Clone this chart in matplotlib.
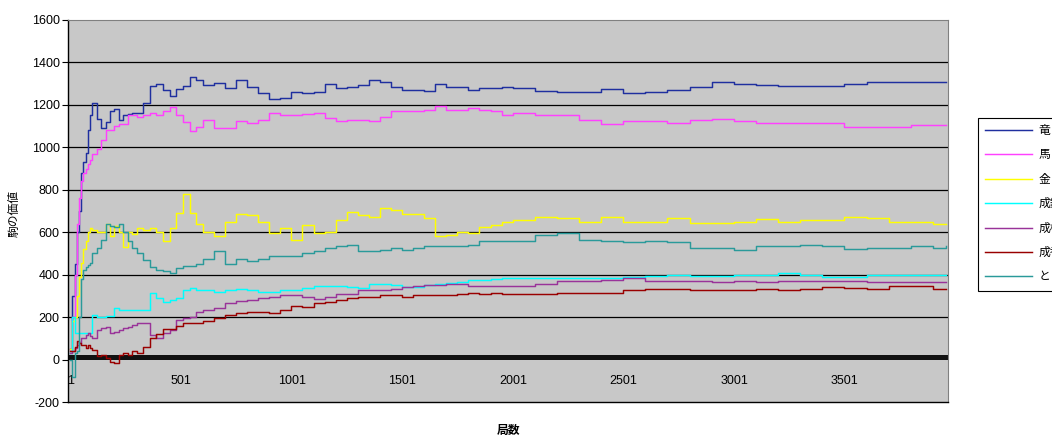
import matplotlib
matplotlib.use('Agg')
import matplotlib.pyplot as plt

games = [1, 10, 20, 30, 40, 50, 60, 70, 80, 90, 100,
         120, 140, 160, 180, 200, 220, 240, 260, 280, 300,
         330, 360, 390, 420, 450, 480, 510, 540, 570, 600,
         650, 700, 750, 800, 850, 900, 950, 1000, 1050, 1100,
         1150, 1200, 1250, 1300, 1350, 1400, 1450, 1500, 1550, 1600,
         1650, 1700, 1750, 1800, 1850, 1900, 1950, 2000,
         2100, 2200, 2300, 2400, 2500, 2600, 2700, 2800, 2900, 3000,
         3100, 3200, 3300, 3400, 3500, 3600, 3700, 3800, 3900, 3960]

ryu = [50, 300, 450, 600, 700, 880, 930, 975, 1080, 1150, 1208,
       1135, 1090, 1120, 1170, 1180, 1130, 1150, 1155, 1160, 1160,
       1210, 1290, 1300, 1270, 1243, 1275, 1290, 1330, 1315, 1294,
       1302, 1278, 1317, 1286, 1255, 1228, 1234, 1259, 1255, 1262,
       1297, 1278, 1286, 1294, 1317, 1306, 1286, 1270, 1270, 1266,
       1297, 1286, 1286, 1270, 1278, 1281, 1286, 1278,
       1266, 1262, 1259, 1275, 1255, 1259, 1270, 1286, 1306, 1298,
       1294, 1289, 1291, 1289, 1297, 1310, 1310, 1310, 1310, 1310]

uma = [50, 200, 400, 640, 760, 840, 880, 900, 920, 940, 970,
       990, 1036, 1080, 1080, 1100, 1110, 1110, 1150, 1150, 1145,
       1150, 1160, 1150, 1170, 1190, 1150, 1120, 1075, 1098, 1130,
       1091, 1091, 1122, 1114, 1130, 1161, 1153, 1153, 1156, 1161,
       1137, 1125, 1130, 1130, 1122, 1145, 1169, 1169, 1169, 1177,
       1195, 1177, 1177, 1184, 1177, 1169, 1153, 1161,
       1153, 1153, 1130, 1109, 1122, 1122, 1114, 1130, 1133, 1122,
       1117, 1114, 1117, 1114, 1098, 1098, 1095, 1106, 1106, 1106]

kin = [50, 180, 200, 300, 390, 455, 520, 560, 600, 620, 610,
       600, 600, 640, 580, 630, 600, 530, 600, 590, 620,
       610, 620, 600, 560, 620, 690, 780, 690, 640, 603,
       580, 649, 688, 680, 649, 595, 618, 565, 634, 595,
       603, 657, 695, 680, 672, 715, 703, 688, 688, 665,
       580, 588, 603, 595, 626, 634, 649, 657,
       672, 665, 649, 672, 649, 646, 665, 642, 642, 649,
       662, 649, 657, 657, 672, 665, 649, 646, 638, 638]

narigin = [30, 200, 125, 125, 125, 125, 125, 125, 125, 125, 210,
           202, 200, 205, 205, 243, 233, 233, 233, 233, 233,
           235, 313, 290, 272, 280, 290, 330, 337, 330, 326,
           318, 326, 334, 326, 318, 318, 326, 326, 338, 345,
           345, 345, 342, 338, 354, 354, 349, 342, 342, 349,
           354, 360, 365, 375, 375, 380, 382, 385,
           385, 385, 385, 385, 391, 394, 400, 394, 394, 398,
           398, 409, 398, 391, 391, 400, 400, 400, 400, 400]

narikei = [30, 40, 55, 70, 80, 100, 100, 115, 124, 110, 100,
           140, 150, 155, 124, 130, 140, 148, 155, 165, 171,
           171, 115, 100, 124, 140, 187, 195, 200, 226, 234,
           245, 265, 277, 280, 288, 295, 303, 303, 295, 283,
           295, 308, 311, 326, 329, 326, 334, 342, 345, 349,
           349, 354, 357, 345, 345, 345, 345, 348,
           357, 369, 369, 375, 382, 369, 372, 369, 365, 372,
           365, 372, 372, 372, 372, 365, 365, 365, 365, 365]

narikyo = [40, 40, 60, 86, 78, 70, 70, 55, 70, 55, 47,
           16, 23, 8, -10, -16, 23, 31, 23, 39, 31,
           60, 100, 120, 145, 145, 160, 170, 172, 172, 180,
           195, 211, 219, 226, 226, 219, 234, 252, 249, 265,
           272, 280, 288, 295, 295, 303, 303, 295, 303, 303,
           303, 303, 311, 314, 311, 314, 311, 311,
           311, 314, 314, 314, 329, 334, 334, 326, 326, 326,
           334, 329, 334, 342, 338, 334, 345, 345, 334, 334]

tokin = [0, -80, 30, 40, 200, 380, 420, 436, 445, 455, 500,
         526, 565, 640, 630, 625, 640, 600, 560, 525, 500,
         470, 436, 420, 415, 410, 430, 440, 440, 449, 472,
         511, 449, 472, 465, 472, 488, 488, 488, 503, 511,
         526, 534, 541, 511, 511, 518, 526, 518, 526, 534,
         534, 534, 534, 541, 557, 557, 557, 557,
         585, 595, 565, 560, 554, 560, 554, 526, 526, 518,
         534, 534, 538, 534, 522, 526, 526, 534, 526, 534]

names = ['竜', '馬', '金', '成銀', '成桂', '成香', 'と']
values = [ryu, uma, kin, narigin, narikei, narikyo, tokin]
colors = ['#1f2f9f', '#ff40ff', '#ffff00', '#00ffff', '#993399', '#990000', '#2a9a9a']

xtick_games = [1, 501, 1001, 1501, 2001, 2501, 3001, 3501]

plt.rcParams['font.family'] = ['Liberation Sans', 'Noto Sans CJK JP']
plt.rcParams['axes.unicode_minus'] = False

W, H = 1052, 436
fig = plt.figure(figsize=(W / 100, H / 100), dpi=100)
ax = fig.add_axes([68 / W, 34 / H, 880 / W, 382 / H])
ax.set_facecolor('#c8c8c8')
ax.set_xlim(-10, 3968)
ax.set_ylim(-200, 1600)

# horizontal gridlines
for v in range(200, 1600, 200):
    ax.axhline(v, color='black', lw=0.9, zorder=1)
# the dense category ticks on the zero line form a black band
ax.axhspan(0, 20, facecolor='#111111', lw=0, zorder=1.5)

for name, vals, c in zip(names, values, colors):
    ax.plot(games, vals, color=c, lw=1.05, drawstyle='steps-post', label=name, zorder=2)

ax.set_yticks(range(-200, 1601, 200))
ax.tick_params(axis='y', direction='out', length=4, width=0.8, labelsize=9, pad=2)
ax.set_xticks(xtick_games)
ax.set_xticklabels([str(g) for g in xtick_games])
ax.tick_params(axis='x', length=0, labelsize=9, pad=-19.5)

for s in ['top', 'right']:
    ax.spines[s].set_color('#808080')
for s in ['left', 'bottom']:
    ax.spines[s].set_color('black')
    ax.spines[s].set_linewidth(1.0)

fig.text(15 / W, 1 - 213 / H, '駒の価値', rotation=90, ha='center', va='center', fontsize=8.5)
fig.text(508 / W, 1 - 431 / H, '局数', ha='center', va='center', fontsize=8.5, fontweight='bold')

# legend box runs past the right edge of the picture, as in the original
leg = ax.legend(loc='upper left', bbox_to_anchor=(978 / W, 1 - 118 / H), bbox_transform=fig.transFigure,
                fancybox=False, framealpha=1, edgecolor='black', fontsize=8.5,
                handlelength=4.0, labelspacing=1.05, borderpad=0.6, handletextpad=0.5, borderaxespad=0)
leg.get_frame().set_linewidth(0.8)

fig.savefig('out.png', dpi=100)
